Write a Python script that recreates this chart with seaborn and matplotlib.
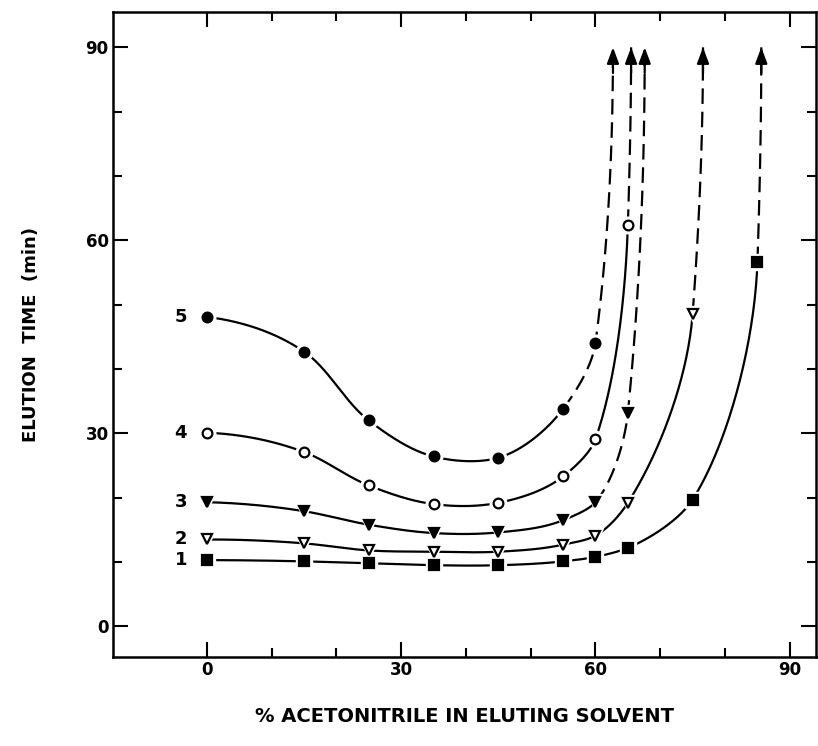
import numpy as np
import matplotlib
matplotlib.use("Agg")
import matplotlib.pyplot as plt
import seaborn as sns

# % acetonitrile in the eluting solvent at which elution times were measured
acetonitrile = [0, 15, 25, 35, 45, 55, 60, 65, 75, 85]

# elution times (min) for the five compounds
curve1 = [10.3, 10.1, 9.8, 9.5, 9.5, 10.1, 10.8, 12.2, 19.7, 56.6]
curve2 = [13.5, 12.9, 11.8, 11.6, 11.6, 12.7, 14.1, 19.2, 48.6]
curve3 = [19.3, 17.9, 15.8, 14.5, 14.6, 16.5, 19.3, 33.2]
curve4 = [30.1, 27.1, 21.9, 19.0, 19.2, 23.3, 29.1, 62.4]
curve5 = [48.1, 42.7, 32.0, 26.4, 26.2, 33.8, 44.1]

curve_names = ["1", "2", "3", "4", "5"]
# acetonitrile % at which each compound no longer elutes within 90 min
runaway_x = [85.6, 76.6, 67.6, 65.5, 62.7]
runaway_y = 90
# index of the measured point after which each curve is extrapolated (dashed)
dash_start = [9, 8, 6, 7, 5]

x_ticks = [0, 30, 60, 90]
y_ticks = [0, 30, 60, 90]
minor_ticks = [10, 20, 40, 50, 70, 80]

markers = ["s", "v", "v", "o", "o"]
filled = [True, False, True, False, True]


def end_slope(h0, h1, d0, d1, monotone):
    s = ((2 * h0 + h1) * d0 - h0 * d1) / (h0 + h1)
    if monotone:
        if np.sign(s) != np.sign(d0):
            s = 0.0
        elif np.sign(d0) != np.sign(d1) and abs(s) > abs(3 * d0):
            s = 3 * d0
    return s


def spline_slopes(t, v, monotone):
    """Slopes for a cubic Hermite curve; monotone=True uses Fritsch-Carlson."""
    h = np.diff(t)
    delta = np.diff(v) / h
    n = len(v)
    d = np.zeros(n)
    for k in range(1, n - 1):
        if monotone:
            if delta[k - 1] * delta[k] > 0:
                w1 = 2 * h[k] + h[k - 1]
                w2 = h[k] + 2 * h[k - 1]
                d[k] = (w1 + w2) / (w1 / delta[k - 1] + w2 / delta[k])
        else:
            d[k] = (h[k] * delta[k - 1] + h[k - 1] * delta[k]) / (h[k] + h[k - 1])
    d[0] = end_slope(h[0], h[1], delta[0], delta[1], monotone)
    d[-1] = end_slope(h[-1], h[-2], delta[-1], delta[-2], True)
    return d


def smooth_segments(px, py, n=60):
    """Parametric cubic through the points (chord-length parameter)."""
    P = np.column_stack([px, py]).astype(float)
    t = np.concatenate([[0.0], np.cumsum(np.hypot(*np.diff(P, axis=0).T))])
    dx = spline_slopes(t, P[:, 0], True)
    dy = spline_slopes(t, P[:, 1], False)
    s = np.linspace(0, 1, n)
    h00 = 2 * s**3 - 3 * s**2 + 1
    h10 = s**3 - 2 * s**2 + s
    h01 = -2 * s**3 + 3 * s**2
    h11 = s**3 - s**2
    segs = []
    for i in range(len(P) - 1):
        h = t[i + 1] - t[i]
        xs = h00 * P[i, 0] + h10 * h * dx[i] + h01 * P[i + 1, 0] + h11 * h * dx[i + 1]
        ys = h00 * P[i, 1] + h10 * h * dy[i] + h01 * P[i + 1, 1] + h11 * h * dy[i + 1]
        segs.append(np.column_stack([xs, ys]))
    return segs


sns.set_theme(style="ticks")
plt.rcParams["font.family"] = ["DejaVu Sans"]
plt.rcParams["font.weight"] = "bold"
plt.rcParams["text.color"] = "black"
plt.rcParams["axes.labelcolor"] = "black"
plt.rcParams["xtick.color"] = "black"
plt.rcParams["ytick.color"] = "black"

fig = plt.figure(figsize=(8.18, 7.46), dpi=100)
ax = fig.add_axes([0.138, 0.119, 0.860, 0.865])

curves = [curve1, curve2, curve3, curve4, curve5]
for k, yv in enumerate(curves):
    xv = acetonitrile[: len(yv)]
    segs = smooth_segments(list(xv) + [runaway_x[k]], list(yv) + [runaway_y])
    solid = np.vstack(segs[: dash_start[k]])
    dashed = np.vstack(segs[dash_start[k]:])
    sns.lineplot(x=solid[:, 0], y=solid[:, 1], sort=False, estimator=None,
                 color="black", lw=1.6, ax=ax)
    sns.lineplot(x=dashed[:, 0], y=dashed[:, 1], sort=False, estimator=None,
                 color="black", lw=1.6, linestyle=(0, (7, 3.5)), ax=ax)
    # white halo breaks the curve around each point
    ax.plot(xv, yv, ls="none", marker=markers[k], ms=12, color="white", zorder=3)
    ms = 7 if markers[k] != "s" else 6.5
    ax.plot(xv, yv, ls="none", marker=markers[k], ms=ms,
            mfc="black" if filled[k] else "white", mec="black", mew=1.6, zorder=4)
    ax.annotate("", xy=(runaway_x[k], runaway_y), xytext=(runaway_x[k], runaway_y - 4),
                arrowprops=dict(arrowstyle="-|>,head_length=0.8,head_width=0.3",
                                color="black", lw=1.6, shrinkA=0, shrinkB=0),
                zorder=5)
    ax.text(-4.0, yv[0], curve_names[k], ha="center", va="center",
            fontsize=13, fontweight="bold")

ax.set_xlim(-14.5, 94.1)
ax.set_ylim(-4.8, 95.5)
ax.set_xticks(x_ticks)
ax.set_yticks(y_ticks)
ax.set_xticks(minor_ticks, minor=True)
ax.set_yticks(minor_ticks, minor=True)
ax.set_xticklabels([str(v) for v in x_ticks], fontsize=12, fontweight="bold")
ax.set_yticklabels([str(v) for v in y_ticks], fontsize=12, fontweight="bold")
ax.tick_params(which="both", direction="in", top=True, right=True,
               width=1.5, color="black", pad=3)
ax.tick_params(which="major", length=11)
ax.tick_params(which="minor", length=6.5)
for sp in ax.spines.values():
    sp.set_linewidth(1.8)
    sp.set_color("black")

ax.set_xlabel("% ACETONITRILE IN ELUTING SOLVENT", fontsize=14,
              fontweight="bold", labelpad=20)
ax.set_ylabel("ELUTION  TIME  (min)", fontsize=13, fontweight="bold", labelpad=33)

fig.savefig("out.png", dpi=100, facecolor="white")
